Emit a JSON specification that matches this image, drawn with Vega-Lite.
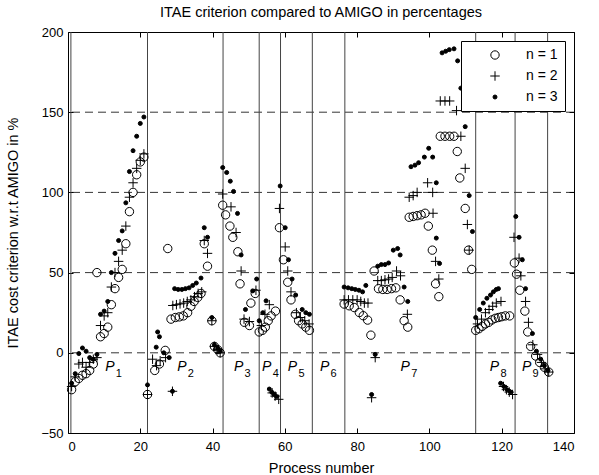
{
"$schema":"https://vega.github.io/schema/vega-lite/v6.json",
"width":506,"height":401,
"autosize":"none",
"padding":{"left":68,"top":32,"right":25,"bottom":42},
"title":{"text":"ITAE criterion compared to AMIGO in percentages","fontSize":14.5,"fontWeight":"normal","font":"Liberation Sans","color":"black","offset":6},
"config":{
 "view":{"stroke":"black","strokeWidth":1},
 "axis":{"domain":false,"grid":false,"ticks":true,"tickColor":"black","tickSize":-5,"labelFont":"Liberation Sans","labelFontSize":13,"labelColor":"black","titleFont":"Liberation Sans","titleFontSize":14.5,"titleFontWeight":"normal","titleColor":"black"}
},
"datasets":{
 "hlines":[{"y":0},{"y":50},{"y":100},{"y":150}],
 "vlines":[{"x":0.8},{"x":22},{"x":42.9},{"x":52.9},{"x":58.8},{"x":67.6},{"x":76.6},{"x":112.8},{"x":123.7},{"x":132.7}],
 "labels":[{"p":"1","x":11.6,"y":-8.7},{"p":"2","x":31.5,"y":-8.7},{"p":"3","x":47.2,"y":-8.7},{"p":"4","x":55,"y":-8.7},{"p":"5","x":62.1,"y":-8.7},{"p":"6","x":71,"y":-8.7},{"p":"7","x":93.3,"y":-8.7},{"p":"8","x":118,"y":-8.7},{"p":"9","x":126.9,"y":-8.7}],
 "frame":[{"x":0,"y":0}],
 "points":[
{"n":"1","x":1,"y":-23},{"n":"1","x":2,"y":-18},{"n":"1","x":3,"y":-16},{"n":"1","x":4,"y":-14},{"n":"1","x":5,"y":-13},{"n":"1","x":6,"y":-11},{"n":"1","x":7,"y":-7},{"n":"1","x":8,"y":50},{"n":"1","x":9,"y":10},{"n":"1","x":10,"y":12},{"n":"1","x":11,"y":16},{"n":"1","x":12,"y":30},{"n":"1","x":13,"y":40},{"n":"1","x":14,"y":47},{"n":"1","x":15,"y":52},{"n":"1","x":16,"y":68},{"n":"1","x":17,"y":88},{"n":"1","x":18,"y":100},{"n":"1","x":19,"y":111},{"n":"1","x":20,"y":119},{"n":"1","x":21,"y":122},
{"n":"1","x":22,"y":-26},{"n":"1","x":24,"y":-11},{"n":"1","x":25.3,"y":-7},{"n":"1","x":26.9,"y":1.5},{"n":"1","x":27.6,"y":65},{"n":"1","x":28.5,"y":21},{"n":"1","x":29.7,"y":22},{"n":"1","x":30.8,"y":22.4},{"n":"1","x":31.9,"y":23},{"n":"1","x":33.1,"y":25},{"n":"1","x":34,"y":29},{"n":"1","x":34.9,"y":32},{"n":"1","x":35.9,"y":34.5},{"n":"1","x":36.8,"y":37},{"n":"1","x":37.7,"y":68},{"n":"1","x":38.6,"y":54},{"n":"1","x":39.8,"y":20},{"n":"1","x":40.5,"y":4},{"n":"1","x":41.4,"y":2},{"n":"1","x":42.1,"y":0},
{"n":"1","x":42.8,"y":92},{"n":"1","x":43.6,"y":86},{"n":"1","x":44.8,"y":79},{"n":"1","x":45.6,"y":72},{"n":"1","x":47,"y":63},{"n":"1","x":47.6,"y":43},{"n":"1","x":48.8,"y":19},{"n":"1","x":50.2,"y":17},{"n":"1","x":50.6,"y":31},{"n":"1","x":51.8,"y":37},
{"n":"1","x":52.9,"y":13},{"n":"1","x":53.8,"y":14},{"n":"1","x":54.6,"y":16},{"n":"1","x":55.4,"y":20},{"n":"1","x":56.2,"y":23},{"n":"1","x":57.4,"y":26},
{"n":"1","x":58.5,"y":78},{"n":"1","x":59.6,"y":58},{"n":"1","x":60.8,"y":44},{"n":"1","x":61.7,"y":33},{"n":"1","x":62.9,"y":24},{"n":"1","x":63.8,"y":20},{"n":"1","x":64.8,"y":18},{"n":"1","x":65.8,"y":16},{"n":"1","x":66.8,"y":14},
{"n":"1","x":76.4,"y":30.4},{"n":"1","x":77.8,"y":29.3},{"n":"1","x":79.2,"y":28.2},{"n":"1","x":80.6,"y":25.1},{"n":"1","x":81.7,"y":23.1},{"n":"1","x":82.9,"y":20.4},{"n":"1","x":83.8,"y":11},{"n":"1","x":84.7,"y":51},{"n":"1","x":85.9,"y":40},{"n":"1","x":87.1,"y":39.5},{"n":"1","x":88.3,"y":39.5},{"n":"1","x":89.5,"y":40},{"n":"1","x":90.7,"y":40.5},{"n":"1","x":91.9,"y":33},{"n":"1","x":93,"y":20},{"n":"1","x":94,"y":16},{"n":"1","x":94.4,"y":84.5},{"n":"1","x":95.5,"y":85},{"n":"1","x":96.6,"y":85.5},{"n":"1","x":97.7,"y":86},{"n":"1","x":98.8,"y":87},{"n":"1","x":99.7,"y":79},{"n":"1","x":100.8,"y":64},{"n":"1","x":101.7,"y":43},{"n":"1","x":102.6,"y":35},{"n":"1","x":103,"y":135},{"n":"1","x":104.3,"y":135},{"n":"1","x":105.6,"y":135},{"n":"1","x":106.8,"y":135},{"n":"1","x":107.7,"y":125.5},{"n":"1","x":108.4,"y":109},{"n":"1","x":109.9,"y":90},{"n":"1","x":110.8,"y":64},{"n":"1","x":111.7,"y":52},
{"n":"1","x":112.8,"y":14},{"n":"1","x":113.7,"y":15},{"n":"1","x":114.6,"y":16.5},{"n":"1","x":115.5,"y":18},{"n":"1","x":116.4,"y":19},{"n":"1","x":117.3,"y":20.5},{"n":"1","x":118.2,"y":21.5},{"n":"1","x":119.1,"y":22},{"n":"1","x":120,"y":22.5},{"n":"1","x":121,"y":23},{"n":"1","x":122.2,"y":23},
{"n":"1","x":123.5,"y":56},{"n":"1","x":124.1,"y":49},{"n":"1","x":125,"y":39},{"n":"1","x":126.4,"y":26},{"n":"1","x":127.2,"y":13},{"n":"1","x":128,"y":4},{"n":"1","x":129.4,"y":-2},{"n":"1","x":130.5,"y":-6},{"n":"1","x":131.8,"y":-9},{"n":"1","x":133,"y":-12},
{"n":"2","x":1,"y":-21},{"n":"2","x":2,"y":-15},{"n":"2","x":3,"y":-7},{"n":"2","x":4,"y":-6},{"n":"2","x":5,"y":-9},{"n":"2","x":6,"y":-6},{"n":"2","x":7,"y":-4},{"n":"2","x":8,"y":-3},{"n":"2","x":9,"y":17},{"n":"2","x":10,"y":23},{"n":"2","x":11,"y":25},{"n":"2","x":12,"y":41},{"n":"2","x":13,"y":50},{"n":"2","x":14,"y":57},{"n":"2","x":15,"y":64},{"n":"2","x":16,"y":79},{"n":"2","x":17,"y":97},{"n":"2","x":18,"y":106},{"n":"2","x":19,"y":115},{"n":"2","x":20,"y":120},{"n":"2","x":21,"y":124},
{"n":"2","x":22,"y":-26},{"n":"2","x":23.4,"y":-4},{"n":"2","x":24.5,"y":-8},{"n":"2","x":25.5,"y":-5},{"n":"2","x":27,"y":-3},{"n":"2","x":28.9,"y":-24},{"n":"2","x":29,"y":29.5},{"n":"2","x":30,"y":30},{"n":"2","x":31,"y":30.5},{"n":"2","x":32,"y":31},{"n":"2","x":33,"y":32},{"n":"2","x":34,"y":33},{"n":"2","x":35,"y":35},{"n":"2","x":36,"y":37},{"n":"2","x":37,"y":38},{"n":"2","x":37.7,"y":70},{"n":"2","x":38.6,"y":62},{"n":"2","x":39.8,"y":20},{"n":"2","x":40.5,"y":4},{"n":"2","x":41.4,"y":2},{"n":"2","x":42.1,"y":0},
{"n":"2","x":42.8,"y":99},{"n":"2","x":45.1,"y":91},{"n":"2","x":46.5,"y":75},{"n":"2","x":47.9,"y":51},{"n":"2","x":48.7,"y":21},{"n":"2","x":50.2,"y":19.5},{"n":"2","x":52,"y":39},
{"n":"2","x":53.5,"y":17},{"n":"2","x":54.5,"y":24},{"n":"2","x":55.7,"y":30},{"n":"2","x":56.5,"y":-25},{"n":"2","x":57.3,"y":-27},{"n":"2","x":58.3,"y":-29},
{"n":"2","x":58.5,"y":90},{"n":"2","x":60.1,"y":66},{"n":"2","x":60.8,"y":51},{"n":"2","x":61.7,"y":38},{"n":"2","x":63.2,"y":25},{"n":"2","x":64.3,"y":22},{"n":"2","x":65.5,"y":20},{"n":"2","x":66.7,"y":18},
{"n":"2","x":76.4,"y":33},{"n":"2","x":77.6,"y":33},{"n":"2","x":78.8,"y":33},{"n":"2","x":80,"y":33},{"n":"2","x":81,"y":32},{"n":"2","x":82,"y":31},{"n":"2","x":83,"y":31},{"n":"2","x":84,"y":-28},{"n":"2","x":85,"y":-3},{"n":"2","x":85.7,"y":45},{"n":"2","x":86.7,"y":45},{"n":"2","x":87.7,"y":45.5},{"n":"2","x":88.7,"y":46},{"n":"2","x":89.7,"y":47},{"n":"2","x":90.9,"y":51},{"n":"2","x":92,"y":48},{"n":"2","x":93.9,"y":24},{"n":"2","x":94.4,"y":97},{"n":"2","x":95.5,"y":98},{"n":"2","x":96.6,"y":100},{"n":"2","x":99.5,"y":106},{"n":"2","x":100.9,"y":100},{"n":"2","x":101,"y":87},{"n":"2","x":101.7,"y":57},{"n":"2","x":102.6,"y":46},{"n":"2","x":103,"y":157},{"n":"2","x":104.3,"y":157},{"n":"2","x":105.6,"y":157},{"n":"2","x":107.5,"y":151},{"n":"2","x":108.7,"y":135},{"n":"2","x":109.9,"y":115},{"n":"2","x":110.5,"y":80},{"n":"2","x":111,"y":64},
{"n":"2","x":113.3,"y":18},{"n":"2","x":114.4,"y":21},{"n":"2","x":115.5,"y":25},{"n":"2","x":116.5,"y":27},{"n":"2","x":117.5,"y":29},{"n":"2","x":118.5,"y":31},{"n":"2","x":119.8,"y":32},{"n":"2","x":120.5,"y":-21},{"n":"2","x":121.3,"y":-23},{"n":"2","x":122.1,"y":-24.5},{"n":"2","x":123,"y":-26},
{"n":"2","x":123.4,"y":72},{"n":"2","x":124.8,"y":59},{"n":"2","x":125.3,"y":48},{"n":"2","x":126.6,"y":32},{"n":"2","x":127.4,"y":19},{"n":"2","x":128.6,"y":5},{"n":"2","x":129.9,"y":-1},{"n":"2","x":131,"y":-6},{"n":"2","x":132,"y":-10},{"n":"2","x":133,"y":-12},
{"n":"3","x":1,"y":-19},{"n":"3","x":2,"y":-13},{"n":"3","x":3,"y":-0.5},{"n":"3","x":4,"y":3},{"n":"3","x":5,"y":1},{"n":"3","x":6,"y":-3},{"n":"3","x":7,"y":-4},{"n":"3","x":8,"y":-1},{"n":"3","x":9,"y":24},{"n":"3","x":10,"y":26},{"n":"3","x":11,"y":32},{"n":"3","x":12,"y":50},{"n":"3","x":13,"y":62},{"n":"3","x":14,"y":70},{"n":"3","x":15,"y":76},{"n":"3","x":16,"y":93.5},{"n":"3","x":17,"y":113},{"n":"3","x":18,"y":126},{"n":"3","x":19,"y":135},{"n":"3","x":20,"y":143},{"n":"3","x":21,"y":147},
{"n":"3","x":22,"y":-20},{"n":"3","x":24.4,"y":3.5},{"n":"3","x":24.8,"y":13},{"n":"3","x":25.3,"y":10},{"n":"3","x":26.5,"y":0},{"n":"3","x":28,"y":-3},{"n":"3","x":28.9,"y":-24},{"n":"3","x":29.5,"y":40},{"n":"3","x":30.5,"y":39.5},{"n":"3","x":31.5,"y":39.5},{"n":"3","x":32.5,"y":40},{"n":"3","x":33.5,"y":40.5},{"n":"3","x":34.5,"y":42},{"n":"3","x":35.5,"y":43.5},{"n":"3","x":36.8,"y":46.6},{"n":"3","x":37.7,"y":78},{"n":"3","x":38.6,"y":72},{"n":"3","x":39.8,"y":22},{"n":"3","x":40.5,"y":5},{"n":"3","x":41.4,"y":3},{"n":"3","x":42.1,"y":1},
{"n":"3","x":42.8,"y":115.5},{"n":"3","x":43.9,"y":112.4},{"n":"3","x":44.9,"y":107},{"n":"3","x":45.8,"y":100.6},{"n":"3","x":46.9,"y":86.9},{"n":"3","x":47.9,"y":61},{"n":"3","x":49.1,"y":27},{"n":"3","x":51.1,"y":38.6},{"n":"3","x":52.2,"y":46},
{"n":"3","x":52.9,"y":20},{"n":"3","x":53.9,"y":25},{"n":"3","x":54.8,"y":32.4},{"n":"3","x":55.7,"y":-22.6},{"n":"3","x":56.4,"y":-24.6},{"n":"3","x":57.1,"y":-26},{"n":"3","x":57.7,"y":-27.3},
{"n":"3","x":58.7,"y":104},{"n":"3","x":60.1,"y":78},{"n":"3","x":61,"y":58},{"n":"3","x":62,"y":46},{"n":"3","x":63,"y":36},{"n":"3","x":64.8,"y":27},{"n":"3","x":65.8,"y":25},{"n":"3","x":66.8,"y":24},
{"n":"3","x":76.4,"y":41},{"n":"3","x":77.5,"y":40.5},{"n":"3","x":78.5,"y":40},{"n":"3","x":79.5,"y":39.5},{"n":"3","x":80.5,"y":39},{"n":"3","x":81.5,"y":38},{"n":"3","x":82.4,"y":42},{"n":"3","x":84,"y":-26},{"n":"3","x":85,"y":-1},{"n":"3","x":85.7,"y":54},{"n":"3","x":86.7,"y":55},{"n":"3","x":87.7,"y":55},{"n":"3","x":88.7,"y":56},{"n":"3","x":90,"y":64},{"n":"3","x":91.2,"y":65},{"n":"3","x":91.9,"y":61},{"n":"3","x":93,"y":41},{"n":"3","x":94,"y":32},{"n":"3","x":94.9,"y":116},{"n":"3","x":96,"y":117},{"n":"3","x":97,"y":118.5},{"n":"3","x":98.6,"y":122},{"n":"3","x":99.8,"y":127.5},{"n":"3","x":100.9,"y":122},{"n":"3","x":101.9,"y":106},{"n":"3","x":101.9,"y":71.5},{"n":"3","x":102.8,"y":55.7},{"n":"3","x":103.5,"y":187},{"n":"3","x":104.5,"y":188},{"n":"3","x":105.5,"y":189},{"n":"3","x":106.8,"y":189.5},{"n":"3","x":107.8,"y":182},{"n":"3","x":108.7,"y":165},{"n":"3","x":109.9,"y":141},{"n":"3","x":111,"y":98},{"n":"3","x":111.9,"y":75.6},
{"n":"3","x":112.8,"y":22},{"n":"3","x":113.9,"y":27},{"n":"3","x":114.9,"y":31},{"n":"3","x":115.9,"y":34},{"n":"3","x":116.9,"y":36},{"n":"3","x":117.7,"y":38},{"n":"3","x":118.5,"y":39.5},{"n":"3","x":119.1,"y":40},{"n":"3","x":119.7,"y":-19},{"n":"3","x":120.6,"y":-21},{"n":"3","x":121.5,"y":-23},{"n":"3","x":122.4,"y":-24.5},
{"n":"3","x":123.9,"y":85},{"n":"3","x":124.8,"y":72},{"n":"3","x":125.7,"y":58},{"n":"3","x":126.6,"y":40},{"n":"3","x":128.5,"y":12},{"n":"3","x":129.6,"y":1},{"n":"3","x":130.8,"y":-4},{"n":"3","x":131.8,"y":-8},{"n":"3","x":132.8,"y":-11}
 ]
},
"resolve":{"axis":{"x":"independent","y":"independent"}},
"layer":[
 {"data":{"name":"hlines"},
  "mark":{"type":"rule","color":"black","strokeWidth":0.8,"strokeDash":[8,5]},
  "encoding":{"y":{"field":"y","type":"quantitative","scale":{"domain":[-50,200],"nice":false,"zero":false},"axis":{"values":[-50,0,50,100,150,200],"title":"ITAE cost criterion w.r.t AMIGO in %","labelPadding":10,"titlePadding":20}}}},
 {"data":{"name":"vlines"},
  "mark":{"type":"rule","color":"#444444","strokeWidth":1},
  "encoding":{"x":{"field":"x","type":"quantitative","scale":{"domain":[0,140],"nice":false,"zero":false},"axis":{"values":[0,20,40,60,80,100,120,140],"title":"Process number","labelPadding":12,"titlePadding":8}}}},
 {"data":{"name":"points"},
  "mark":{"type":"point","opacity":1,"stroke":"black","strokeWidth":1},
  "encoding":{
   "x":{"field":"x","type":"quantitative","axis":null},
   "y":{"field":"y","type":"quantitative","axis":null},
   "shape":{"field":"n","type":"nominal","scale":{"domain":["1","2","3"],"range":["circle","M-1,0H1M0,-1V1","circle"]},
     "legend":{"title":null,"orient":"top-right","offset":9,"strokeColor":"black","fillColor":"white","padding":7,"symbolOffset":20,"labelOffset":24,"rowPadding":7,"labelFont":"Liberation Sans","labelFontSize":14,"labelColor":"black","labelExpr":"'n = ' + datum.label","symbolStrokeColor":"black","symbolStrokeWidth":1,
       "encode":{"symbols":{"update":{"stroke":{"value":"black"},"strokeWidth":{"value":1},"opacity":{"value":1}}}}}},
   "fill":{"field":"n","type":"nominal","scale":{"domain":["1","2","3"],"range":["transparent","transparent","black"]}},
   "size":{"field":"n","type":"nominal","scale":{"type":"ordinal","domain":["1","2","3"],"range":[70,90,16]}}
  }},
 {"data":{"name":"labels"},
  "mark":{"type":"text","text":"P","font":"Liberation Sans","fontSize":14,"fontStyle":"italic","align":"center","baseline":"middle","color":"black"},
  "encoding":{"x":{"field":"x","type":"quantitative","axis":null},"y":{"field":"y","type":"quantitative","axis":null}}},
 {"data":{"name":"labels"},
  "mark":{"type":"text","font":"Liberation Sans","fontSize":11,"align":"center","baseline":"middle","dx":9,"dy":7,"color":"black"},
  "encoding":{"x":{"field":"x","type":"quantitative","axis":null},"y":{"field":"y","type":"quantitative","axis":null},"text":{"field":"p"}}},
 {"data":{"name":"frame"},
  "mark":{"type":"point","opacity":0},
  "encoding":{
   "x":{"field":"x","type":"quantitative","axis":{"orient":"top","values":[0,20,40,60,80,100,120,140],"labels":false,"title":null}},
   "y":{"field":"y","type":"quantitative","axis":{"orient":"right","values":[-50,0,50,100,150,200],"labels":false,"title":null}}}}
]
}
